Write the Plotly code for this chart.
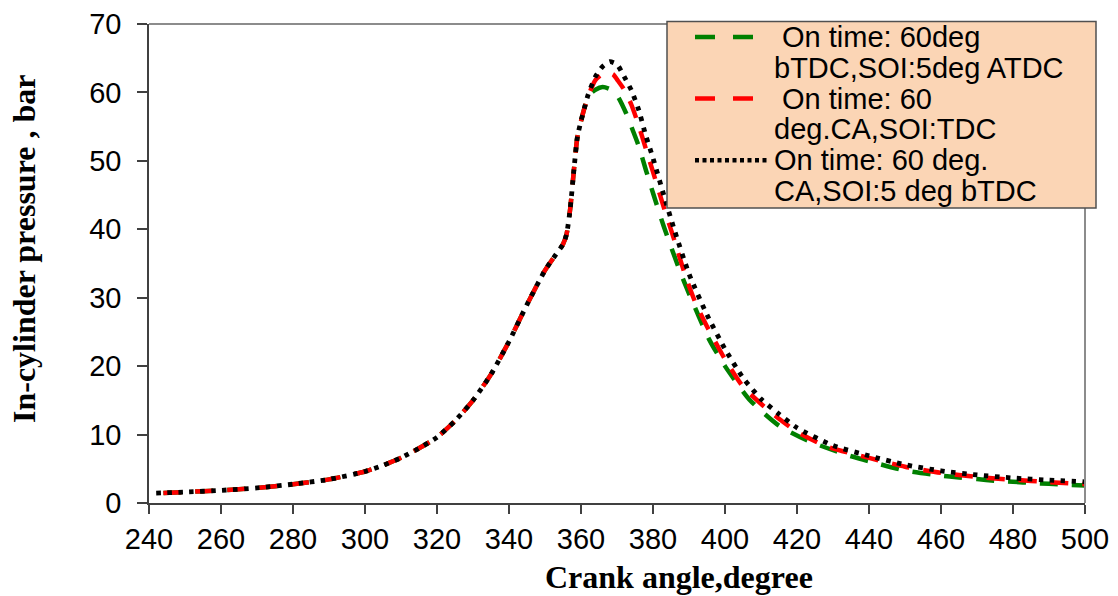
import plotly.graph_objects as go

# Crank angle (deg) and in-cylinder pressure (bar) for the three injection cases
angle_atdc = [244, 250, 260, 270, 280, 290, 300, 305, 310, 315, 320, 325, 330, 335, 340,
              345, 350, 353, 355, 356, 357, 358, 359, 360, 361, 362, 364, 366, 368, 370,
              372.5, 374.5, 376, 378, 380, 383, 387.4, 390, 395.7, 400, 406.8, 415, 423.5,
              433.7, 440, 450, 460, 465, 470, 475, 480, 485.5, 490, 496, 500]
p_atdc = [1.45, 1.6, 1.85, 2.2, 2.75, 3.45, 4.6, 5.5, 6.6, 8.0, 9.6, 12.0, 15.0, 18.8, 23.6,
          29.0, 34.0, 36.3, 37.8, 39.3, 43.0, 48.5, 53.5, 55.8, 57.8, 59.5, 60.4, 60.8, 60.5, 59.6,
          57.0, 54.3, 52.2, 48.7, 45.3, 40.4, 34.0, 30.6, 23.8, 20.0, 15.1, 11.3, 9.0,
          7.05, 6.1, 4.75, 4.0, 3.74, 3.5, 3.25, 3.1, 2.92, 2.8, 2.63, 2.55]

angle_tdc = [244, 250, 260, 270, 280, 290, 300, 305, 310, 315, 320, 325, 330, 335, 340,
             345, 350, 353, 355, 356, 357, 358, 359, 360, 361, 362, 364, 366, 367.5, 369,
             370, 372, 374, 376, 378, 380, 383, 386, 389, 392, 395, 398.5, 400, 405, 410,
             415, 420, 428, 440, 450, 460, 470, 480, 490, 500]
p_tdc = [1.45, 1.6, 1.85, 2.2, 2.75, 3.45, 4.6, 5.5, 6.6, 8.0, 9.6, 12.0, 15.0, 18.8, 23.6,
         29.0, 34.0, 36.3, 37.8, 39.3, 43.0, 48.5, 53.5, 55.8, 57.8, 59.5, 61.8, 62.7, 62.95, 62.6,
         61.9, 60.4, 58.2, 55.2, 51.8, 48.4, 43.2, 38.3, 33.2, 29.0, 25.8, 22.4, 21.0, 17.0, 14.5,
         12.3, 10.4, 8.3, 6.6, 5.3, 4.4, 3.8, 3.4, 3.05, 2.75]

angle_btdc = [242, 250, 260, 270, 280, 290, 300, 305, 310, 315, 320, 325, 330, 335, 340,
              345, 350, 353, 355, 356, 357, 358, 359, 360, 361, 362, 364, 366, 368, 370,
              372, 374, 376, 378, 380, 383, 386, 390, 395, 400, 405, 410, 415, 420, 430,
              440, 450, 460, 470, 480, 490, 500]
p_btdc = [1.45, 1.6, 1.85, 2.2, 2.75, 3.45, 4.6, 5.5, 6.6, 8.0, 9.6, 12.0, 15.0, 18.8, 23.6,
          29.0, 34.0, 36.3, 37.8, 39.3, 43.0, 48.5, 53.5, 55.8, 57.8, 59.7, 62.3, 63.8, 64.5, 64.1,
          62.3, 60.3, 57.5, 53.7, 50.4, 45.0, 39.8, 33.5, 27.5, 22.5, 18.3, 15.2, 13.0, 11.0, 8.4,
          6.9, 5.6, 4.7, 4.1, 3.65, 3.35, 3.1]

series_names = [
    [" On time: 60deg", "bTDC,SOI:5deg ATDC"],
    [" On time: 60", "deg.CA,SOI:TDC"],
    ["On time: 60 deg.", "CA,SOI:5 deg bTDC"],
]
series_colors = ["#008000", "#ff0000", "#000000"]
series_dash = ["18px,14px", "18px,14px", "4.5px,6.5px"]
series_width = [4.5, 4.5, 4.8]

x_ticks = [240, 260, 280, 300, 320, 340, 360, 380, 400, 420, 440, 460, 480, 500]
y_ticks = [0, 10, 20, 30, 40, 50, 60, 70]

x_title = "Crank angle,degree"
y_title = "In-cylinder pressure , bar"

# Figure geometry (pixels)
W, H = 1118, 596
L, R, T, B = 149, 33, 24, 93
PW, PH = W - L - R, H - T - B


def px_x(px):
    return (px - L) / PW


def px_y(py):
    return (H - B - py) / PH


fig = go.Figure()
series = [(angle_atdc, p_atdc), (angle_tdc, p_tdc), (angle_btdc, p_btdc)]
for (xs, ys), name, col, dash, w in zip(series, series_names, series_colors, series_dash, series_width):
    fig.add_trace(go.Scatter(
        x=xs, y=ys, mode="lines", name="<br>".join(name),
        line=dict(color=col, dash=dash, width=w, shape="spline", smoothing=0.6),
        showlegend=False, hoverinfo="skip",
    ))

axis_col = "#404040"
tick_font = dict(family="Liberation Sans, Arial, sans-serif", size=29, color="#000000")

fig.update_xaxes(
    range=[240, 500], tickvals=x_ticks, ticktext=[str(v) for v in x_ticks],
    showgrid=False, zeroline=False, showline=True, linecolor=axis_col, linewidth=1.5,
    ticks="outside", ticklen=9, tickwidth=1.5, tickcolor=axis_col,
    tickfont=tick_font, ticklabelstandoff=0, automargin=False,
)
fig.update_yaxes(
    range=[0, 70], tickvals=y_ticks, ticktext=[str(v) for v in y_ticks],
    showgrid=False, zeroline=False, showline=True, linecolor=axis_col, linewidth=1.5,
    ticks="outside", ticklen=10, tickwidth=1.5, tickcolor=axis_col,
    tickfont=tick_font, ticklabelstandoff=10, automargin=False,
)

shapes = [
    # top and right frame lines
    dict(type="line", xref="paper", yref="paper", x0=0, x1=1, y0=1, y1=1,
         line=dict(color="#8c8c8c", width=2), layer="above"),
    dict(type="line", xref="paper", yref="paper", x0=1, x1=1, y0=0, y1=1,
         line=dict(color="#8c8c8c", width=2), layer="above"),
    # legend box
    dict(type="rect", xref="paper", yref="paper",
         x0=px_x(667), x1=px_x(1096), y0=px_y(208), y1=px_y(21.5),
         fillcolor="#fbd5b5", line=dict(color="#505050", width=1.5), layer="above"),
]

annotations = []
legend_font = dict(family="Liberation Sans, Arial, sans-serif", size=29, color="#000000")
line_step = 30.8
first_line = 37.0
sample_len = [58, 58, 72]
for i, (name, col, dash) in enumerate(zip(series_names, series_colors, series_dash)):
    y_line1 = first_line + 2 * i * line_step
    shapes.append(dict(
        type="line", xref="paper", yref="paper",
        x0=px_x(695), x1=px_x(695 + sample_len[i]), y0=px_y(y_line1), y1=px_y(y_line1),
        line=dict(color=col, width=4.5, dash="20px,18px" if i < 2 else "4px,3.5px"),
        layer="above",
    ))
    for j, txt in enumerate(name):
        annotations.append(dict(
            xref="paper", yref="paper", x=px_x(772), y=px_y(y_line1 + j * line_step),
            xanchor="left", yanchor="middle",
            text=txt.replace(" ", "&nbsp;", 1) if txt.startswith(" ") else txt,
            showarrow=False, font=legend_font,
        ))

title_font = dict(family="Liberation Serif, Times New Roman, serif", size=32, color="#000000")
annotations.append(dict(
    xref="paper", yref="paper", x=px_x(679), y=px_y(577), xanchor="center", yanchor="middle",
    text=f"<b>{x_title}</b>", showarrow=False, font=title_font,
))
annotations.append(dict(
    xref="paper", yref="paper", x=px_x(24), y=px_y(249), xanchor="center", yanchor="middle",
    text=f"<b>{y_title}</b>", textangle=-90, showarrow=False, font=title_font,
))

fig.update_layout(
    width=W, height=H, margin=dict(l=L, r=R, t=T, b=B, autoexpand=False),
    paper_bgcolor="#ffffff", plot_bgcolor="#ffffff",
    shapes=shapes, annotations=annotations, showlegend=False,
)

fig.write_html("out.html")
